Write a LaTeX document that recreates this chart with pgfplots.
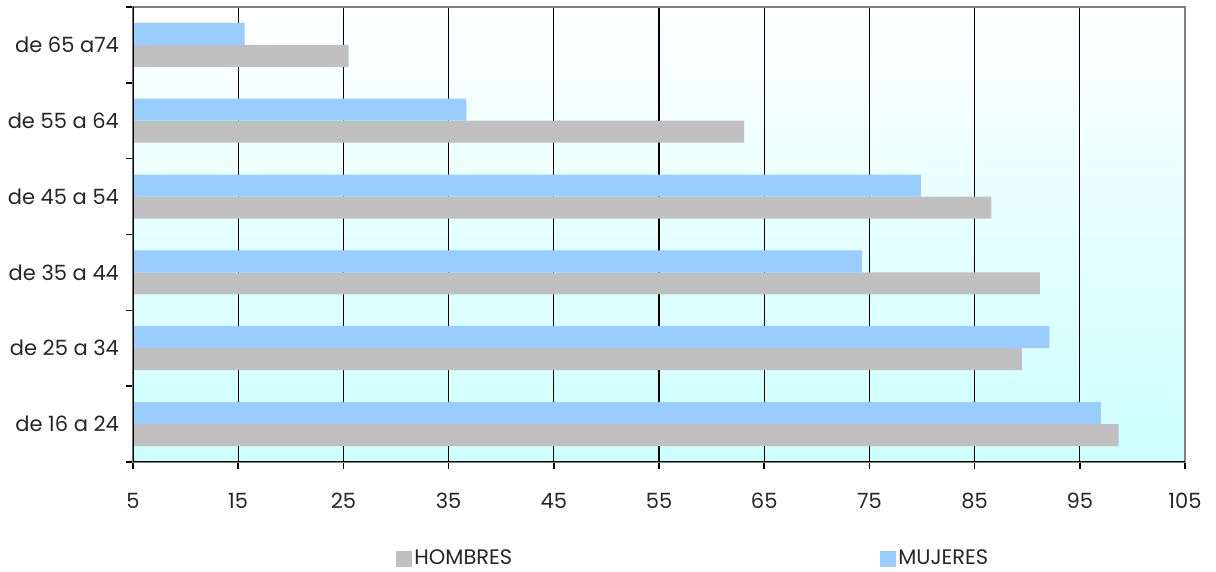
\documentclass[border=0pt]{standalone}
\usepackage{pgfplots}
\pgfplotsset{compat=1.18}
\usepackage{fontspec}
\setmainfont{Poppins}
\definecolor{hom}{RGB}{192,192,192}
\definecolor{muj}{RGB}{153,204,255}
\definecolor{bgc}{RGB}{204,255,255}
\begin{document}
\begin{tikzpicture}
\path[use as bounding box] (-66.5pt,-55pt) rectangle (541.5pt,231pt);
\begin{axis}[
  at={(0,0)}, anchor=south west, scale only axis,
  width=526pt, height=227.5pt,
  xbar, bar width=11pt,
  xmin=5, xmax=105, ymin=-0.5, ymax=5.5,
  xtick={5,15,...,105},
  ytick={0,...,5},
  yticklabels={de 16 a 24, de 25 a 34, de 35 a 44, de 45 a 54, de 55 a 64, de 65 a74},
  minor ytick={-0.5,0.5,...,5.5},
  tick pos=left, tick align=outside,
  major tick length=3.5pt, minor tick length=3.5pt,
  major y tick style={draw=none},
  minor y tick style={black, line width=0.75pt},
  x tick style={black, line width=0.75pt},
  xmajorgrids, major x grid style={black, line width=0.6pt},
  axis line style={gray, line width=0.6pt},
  axis background/.style={top color=white, bottom color=bgc},
  /pgf/number format/assume math mode=true,
  tick label style={font=\fontsize{10.5}{12}\selectfont, text=black!85},
  xticklabel style={yshift=-8.5pt},
  yticklabel style={xshift=0pt},
  legend style={at={(0.25,-0.213)}, anchor=west, draw=none, fill=none, inner sep=0pt,
    legend columns=2, font=\fontsize{10.5}{12}\selectfont,
    nodes={inner xsep=1pt, text=black!85},
    /tikz/every odd column/.append style={column sep=0pt},
    /tikz/every even column/.append style={column sep=183pt}},
  legend image code/.code={\fill[#1] (0pt,-4pt) rectangle (8pt,4pt);},
]
\addplot[fill=hom, draw=none, bar shift=-5.5pt] coordinates {(98.7,0) (89.5,1) (91.2,2) (86.6,3) (63.1,4) (25.5,5)};
\addplot[fill=muj, draw=none, bar shift=5.5pt] coordinates {(97.0,0) (92.1,1) (74.3,2) (79.9,3) (36.7,4) (15.6,5)};
\legend{HOMBRES, MUJERES}
\draw[black, line width=0.9pt] (axis description cs:0,1) -- (axis description cs:0,0) -- (axis description cs:1,0);
\end{axis}
\end{tikzpicture}
\end{document}
